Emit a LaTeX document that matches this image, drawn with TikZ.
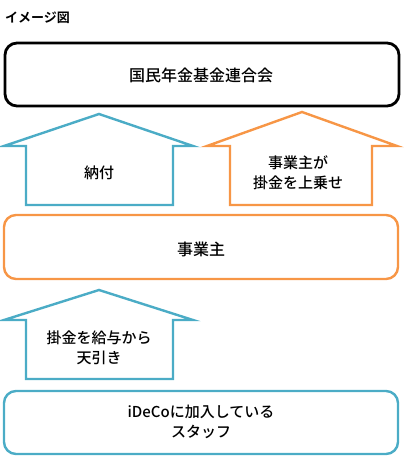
\documentclass[tikz,border=0pt]{standalone}
\usepackage{fontspec}
\setmainfont{Noto Sans CJK JP Medium}
\newfontfamily\jpbold{Noto Sans CJK JP Bold}
\definecolor{offblue}{HTML}{4BACC6}
\definecolor{offorange}{HTML}{F79646}
\begin{document}
\begin{tikzpicture}[x=1pt,y=-1pt,
  box/.style={line width=2.4pt,rounded corners=12pt},
  uparrow/.style={line width=2.4pt,line join=miter,fill=white},
  lbl/.style={font=\fontsize{15}{20}\selectfont,align=center,inner sep=0pt}]
\useasboundingbox (0,0) rectangle (404,471);
\node[anchor=west,inner sep=0pt,font=\jpbold\fontsize{13}{14}\selectfont] (title) at (5,18) {イメージ図};
% boxes
\draw[box,draw=black,line width=2.8pt] (5,43) rectangle (399,106);
\node[lbl,font=\fontsize{16}{20}\selectfont] (nfa) at (201,75) {国民年金基金連合会};
\draw[box,draw=offorange] (4,215) rectangle (398,279);
\node[lbl,font=\fontsize{16}{20}\selectfont] (emp) at (201,249) {事業主};
\draw[box,draw=offblue] (4,391) rectangle (398,454);
\node[lbl] (staff) at (201,422) {iDeCoに加入している\\スタッフ};
% arrows
\draw[uparrow,draw=offblue] (99,114) -- (193,146) -- (173,146) -- (173,205) -- (26,205) -- (26,146) -- (4,146) -- cycle;
\node[lbl] (pay) at (99,173) {納付};
\draw[uparrow,draw=offorange] (302,112) -- (397,146) -- (372,146) -- (372,205) -- (230,205) -- (230,146) -- (207,146) -- cycle;
\node[lbl] (add) at (298,173) {事業主が\\掛金を上乗せ};
\draw[uparrow,draw=offblue] (99,290) -- (193,320) -- (173,320) -- (173,379) -- (26,379) -- (26,320) -- (4,320) -- cycle;
\node[lbl] (ded) at (99,348) {掛金を給与から\\天引き};
\end{tikzpicture}
\end{document}
